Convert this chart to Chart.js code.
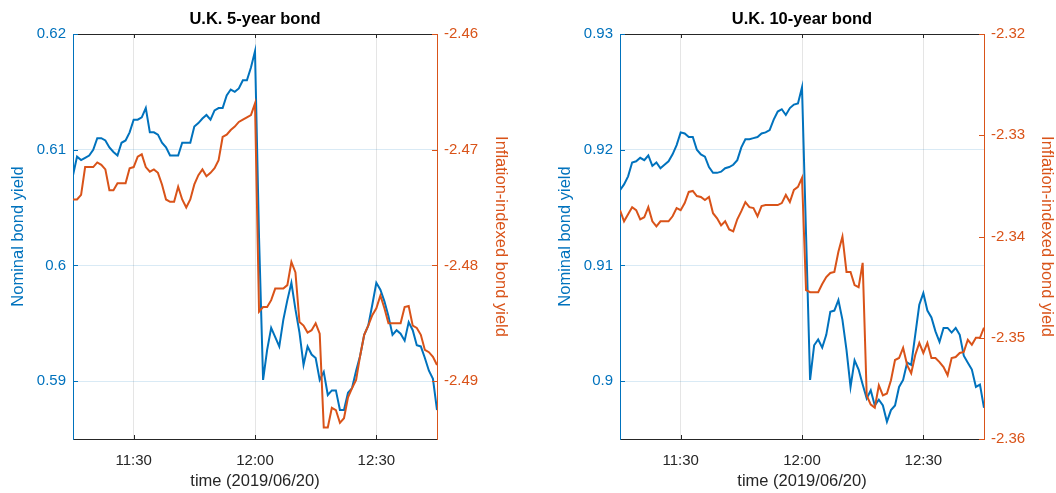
<!DOCTYPE html>
<html>
<head>
<meta charset="utf-8">
<script src="https://cdn.jsdelivr.net/npm/chart.js@4/dist/chart.umd.min.js"></script>
<style>
  html, body { margin: 0; padding: 0; background: #fff; }
  #wrap { position: relative; width: 1056px; height: 493px; overflow: hidden; }
  #wrap canvas { position: absolute; top: 0; }
</style>
</head>
<body>
<div id="wrap">
  <canvas id="c5" width="528" height="493" style="left:0"></canvas>
  <canvas id="c10" width="528" height="493" style="left:528px"></canvas>
</div>
<script>
// Intraday gilt yields, 20 June 2019, one observation per minute
const times = [
  '11:15','11:16','11:17','11:18','11:19','11:20','11:21','11:22','11:23','11:24',
  '11:25','11:26','11:27','11:28','11:29','11:30','11:31','11:32','11:33','11:34',
  '11:35','11:36','11:37','11:38','11:39','11:40','11:41','11:42','11:43','11:44',
  '11:45','11:46','11:47','11:48','11:49','11:50','11:51','11:52','11:53','11:54',
  '11:55','11:56','11:57','11:58','11:59','12:00','12:01','12:02','12:03','12:04',
  '12:05','12:06','12:07','12:08','12:09','12:10','12:11','12:12','12:13','12:14',
  '12:15','12:16','12:17','12:18','12:19','12:20','12:21','12:22','12:23','12:24',
  '12:25','12:26','12:27','12:28','12:29','12:30','12:31','12:32','12:33','12:34',
  '12:35','12:36','12:37','12:38','12:39','12:40','12:41','12:42','12:43','12:44',
  '12:45'
];

// 5-year: nominal gilt yield
const nominal5 = [
  0.6078, 0.6094, 0.6091, 0.6093, 0.6095, 0.6100, 0.6110, 0.6110, 0.6108, 0.6102,
  0.6098, 0.6095, 0.6106, 0.6108, 0.6115, 0.6126, 0.6126, 0.6128, 0.6136, 0.6115,
  0.6115, 0.6113, 0.6106, 0.6102, 0.6095, 0.6095, 0.6095, 0.6106, 0.6106, 0.6106,
  0.6120, 0.6123, 0.6127, 0.6130, 0.6126, 0.6134, 0.6136, 0.6136, 0.6147, 0.6152,
  0.6150, 0.6153, 0.6160, 0.6160, 0.6171, 0.6185, 0.6024, 0.5901, 0.5927, 0.5946,
  0.5938, 0.5930, 0.5953, 0.5970, 0.5985, 0.5962, 0.5942, 0.5914, 0.5930, 0.5923,
  0.5920, 0.5901, 0.5908, 0.5888, 0.5892, 0.5892, 0.5875, 0.5875, 0.5890, 0.5894,
  0.5909, 0.5922, 0.5940, 0.5948, 0.5966, 0.5985, 0.5979, 0.5969, 0.5956, 0.5940,
  0.5944, 0.5941, 0.5935, 0.5951, 0.5944, 0.5931, 0.5930, 0.5920, 0.5909, 0.5902,
  0.5875
];

// 5-year: index-linked gilt yield
const linker5 = [
  -2.4743, -2.4743, -2.4739, -2.4715, -2.4715, -2.4715, -2.4711, -2.4713, -2.4717, -2.4735,
  -2.4735, -2.4729, -2.4729, -2.4729, -2.4716, -2.4715, -2.4706, -2.4704, -2.4715, -2.4719,
  -2.4717, -2.4720, -2.4730, -2.4743, -2.4745, -2.4745, -2.4732, -2.4743, -2.4750, -2.4743,
  -2.4730, -2.4722, -2.4717, -2.4723, -2.4720, -2.4716, -2.4709, -2.4689, -2.4687, -2.4683,
  -2.4680, -2.4676, -2.4674, -2.4672, -2.4670, -2.4660, -2.4840, -2.4836, -2.4836, -2.4830,
  -2.4820, -2.4820, -2.4820, -2.4817, -2.4797, -2.4806, -2.4849, -2.4852, -2.4858, -2.4856,
  -2.4850, -2.4859, -2.4940, -2.4940, -2.4923, -2.4925, -2.4936, -2.4932, -2.4914, -2.4906,
  -2.4899, -2.4878, -2.4860, -2.4852, -2.4843, -2.4837, -2.4826, -2.4837, -2.4850, -2.4850,
  -2.4850, -2.4850, -2.4836, -2.4835, -2.4852, -2.4854, -2.4860, -2.4873, -2.4875, -2.4879,
  -2.4886
];

// 10-year: nominal gilt yield
const nominal10 = [
  0.9165, 0.9170, 0.9177, 0.9189, 0.9190, 0.9193, 0.9191, 0.9195, 0.9186, 0.9189,
  0.9184, 0.9187, 0.9190, 0.9196, 0.9204, 0.9215, 0.9214, 0.9211, 0.9211, 0.9200,
  0.9196, 0.9194, 0.9185, 0.9180, 0.9180, 0.9181, 0.9184, 0.9185, 0.9187, 0.9191,
  0.9202, 0.9209, 0.9209, 0.9210, 0.9211, 0.9214, 0.9215, 0.9217, 0.9226, 0.9233,
  0.9235, 0.9230, 0.9236, 0.9239, 0.9240, 0.9254, 0.9127, 0.9001, 0.9031, 0.9036,
  0.9029, 0.9040, 0.9060, 0.9061, 0.9070, 0.9053, 0.9027, 0.8995, 0.9018, 0.9010,
  0.8997, 0.8985, 0.8992, 0.8979, 0.8984, 0.8979, 0.8965, 0.8975, 0.8979, 0.8995,
  0.9001, 0.9016, 0.9014, 0.9040, 0.9066, 0.9076, 0.9061, 0.9055, 0.9043, 0.9034,
  0.9046, 0.9046, 0.9042, 0.9046, 0.9040, 0.9022, 0.9016, 0.9010, 0.8995, 0.8997,
  0.8977
];

// 10-year: index-linked gilt yield
const linker10 = [
  -2.3374, -2.3385, -2.3378, -2.3371, -2.3374, -2.3383, -2.3381, -2.3371, -2.3385, -2.3390,
  -2.3385, -2.3385, -2.3385, -2.3380, -2.3372, -2.3374, -2.3367, -2.3356, -2.3355, -2.3360,
  -2.3361, -2.3364, -2.3361, -2.3377, -2.3382, -2.3389, -2.3385, -2.3393, -2.3395, -2.3383,
  -2.3375, -2.3366, -2.3371, -2.3372, -2.3380, -2.3370, -2.3369, -2.3369, -2.3369, -2.3369,
  -2.3367, -2.3359, -2.3366, -2.3354, -2.3351, -2.3342, -2.3453, -2.3455, -2.3455, -2.3455,
  -2.3447, -2.3440, -2.3436, -2.3435, -2.3415, -2.3400, -2.3435, -2.3435, -2.3448, -2.3450,
  -2.3426, -2.3557, -2.3566, -2.3569, -2.3547, -2.3557, -2.3555, -2.3542, -2.3522, -2.3520,
  -2.3510, -2.3527, -2.3535, -2.3517, -2.3505, -2.3515, -2.3505, -2.3520, -2.3520, -2.3524,
  -2.3529, -2.3537, -2.3520, -2.3519, -2.3515, -2.3514, -2.3502, -2.3507, -2.3500, -2.3500,
  -2.3490
];

// Axis ticks
const timeTicks = ['11:30', '12:00', '12:30'];
const timeRange = ['11:15', '12:45'];
const ticks5Nominal = [0.59, 0.60, 0.61, 0.62];
const ticks5Linker = [-2.49, -2.48, -2.47, -2.46];
const range5Nominal = [0.585, 0.62];
const range5Linker = [-2.495, -2.46];
const ticks10Nominal = [0.90, 0.91, 0.92, 0.93];
const ticks10Linker = [-2.36, -2.35, -2.34, -2.33, -2.32];
const range10Nominal = [0.895, 0.93];
const range10Linker = [-2.36, -2.32];

const BLUE = '#0072BD';
const ORANGE = '#D95319';
const INK = '#262626';
const FONT = '"Liberation Sans", Arial, Helvetica, sans-serif';
const TICK_SIZE = 15;
const LABEL_SIZE = 16.5;

Chart.defaults.font.family = FONT;
Chart.defaults.devicePixelRatio = 1;

function toMinutes(hhmm) {
  const [h, m] = hhmm.split(':').map(Number);
  return h * 60 + m;
}
const fmtTick = v => String(+v.toFixed(2));

// Title, box top edge and inward tick marks
const framePlugin = {
  id: 'frame',
  afterDraw(chart, args, opts) {
    const { ctx, chartArea: a, scales } = chart;
    ctx.save();
    ctx.lineWidth = 1;
    ctx.strokeStyle = INK;
    ctx.beginPath();
    ctx.moveTo(a.left, a.top + 0.5);
    ctx.lineTo(a.right, a.top + 0.5);
    ctx.stroke();

    scales.x.ticks.forEach(t => {
      const px = Math.round(scales.x.getPixelForValue(t.value)) + 0.5;
      ctx.beginPath();
      ctx.moveTo(px, a.bottom);
      ctx.lineTo(px, a.bottom - 4);
      ctx.moveTo(px, a.top);
      ctx.lineTo(px, a.top + 4);
      ctx.stroke();
    });

    ctx.strokeStyle = BLUE;
    scales.yL.ticks.forEach(t => {
      const py = Math.round(scales.yL.getPixelForValue(t.value)) + 0.5;
      ctx.beginPath();
      ctx.moveTo(a.left, py);
      ctx.lineTo(a.left + 5, py);
      ctx.stroke();
    });
    ctx.strokeStyle = ORANGE;
    scales.yR.ticks.forEach(t => {
      const py = Math.round(scales.yR.getPixelForValue(t.value)) + 0.5;
      ctx.beginPath();
      ctx.moveTo(a.right, py);
      ctx.lineTo(a.right - 5, py);
      ctx.stroke();
    });

    ctx.fillStyle = '#000';
    ctx.font = 'bold ' + LABEL_SIZE + 'px ' + FONT;
    ctx.textAlign = 'center';
    ctx.textBaseline = 'middle';
    ctx.fillText(opts.text, (a.left + a.right) / 2, 19);
    ctx.restore();
  }
};

function makePanel(id, title, nominal, linker, cfg) {
  const xs = times.map(toMinutes);
  const nomPts = nominal.map((v, i) => ({ x: xs[i], y: v }));
  const linPts = linker.map((v, i) => ({ x: xs[i], y: v }));
  const fontTicks = { family: FONT, size: TICK_SIZE };
  const fontTitle = { family: FONT, size: LABEL_SIZE };

  return new Chart(document.getElementById(id), {
    type: 'line',
    data: {
      datasets: [
        { label: 'Inflation-indexed bond yield', data: linPts, yAxisID: 'yR',
          borderColor: ORANGE, borderWidth: 2, pointRadius: 0, tension: 0, order: 0 },
        { label: 'Nominal bond yield', data: nomPts, yAxisID: 'yL',
          borderColor: BLUE, borderWidth: 2, pointRadius: 0, tension: 0, order: 1 }
      ]
    },
    options: {
      responsive: false,
      animation: false,
      events: [],
      layout: { padding: { top: 34, left: 0, right: 0, bottom: 0 } },
      plugins: {
        legend: { display: false },
        tooltip: { enabled: false },
        frame: { text: title }
      },
      scales: {
        x: {
          type: 'linear',
          min: toMinutes(timeRange[0]),
          max: toMinutes(timeRange[1]),
          afterBuildTicks: s => { s.ticks = timeTicks.map(t => ({ value: toMinutes(t) })); },
          afterFit: s => { s.height = 54; },
          ticks: { color: INK, font: fontTicks, padding: 13, maxRotation: 0, autoSkip: false,
                   callback: (v, i) => timeTicks[i] },
          grid: { color: 'rgba(38,38,38,0.12)', drawTicks: false },
          border: { color: INK, width: 1 },
          title: { display: true, text: 'time (2019/06/20)', color: INK, font: fontTitle,
                   padding: { top: 0, bottom: 2 } }
        },
        yL: {
          position: 'left',
          min: cfg.nomRange[0], max: cfg.nomRange[1],
          afterBuildTicks: s => { s.ticks = cfg.nomTicks.map(v => ({ value: v })); },
          afterFit: s => { s.width = cfg.leftWidth; },
          ticks: { color: BLUE, font: fontTicks, padding: 7, callback: fmtTick },
          grid: { color: 'rgba(0,114,189,0.15)', drawTicks: false },
          border: { color: BLUE, width: 1 },
          title: { display: true, text: 'Nominal bond yield', color: BLUE, font: fontTitle,
                   padding: { top: cfg.leftTitlePad, bottom: 0 } }
        },
        yR: {
          position: 'right',
          min: cfg.linRange[0], max: cfg.linRange[1],
          afterBuildTicks: s => { s.ticks = cfg.linTicks.map(v => ({ value: v })); },
          afterFit: s => { s.width = cfg.rightWidth; },
          ticks: { color: ORANGE, font: fontTicks, padding: 7, callback: fmtTick },
          grid: { drawOnChartArea: false, drawTicks: false },
          border: { color: ORANGE, width: 1 },
          title: { display: true, text: 'Inflation-indexed bond yield', color: ORANGE, font: fontTitle,
                   padding: { top: cfg.rightTitlePad, bottom: 0 } }
        }
      }
    },
    plugins: [framePlugin]
  });
}

makePanel('c5', 'U.K. 5-year bond', nominal5, linker5, {
  nomRange: range5Nominal, nomTicks: ticks5Nominal,
  linRange: range5Linker, linTicks: ticks5Linker,
  leftWidth: 73, rightWidth: 91, leftTitlePad: 9, rightTitlePad: 18
});

makePanel('c10', 'U.K. 10-year bond', nominal10, linker10, {
  nomRange: range10Nominal, nomTicks: ticks10Nominal,
  linRange: range10Linker, linTicks: ticks10Linker,
  leftWidth: 92, rightWidth: 72, leftTitlePad: 28, rightTitlePad: 0
});
</script>
</body>
</html>
